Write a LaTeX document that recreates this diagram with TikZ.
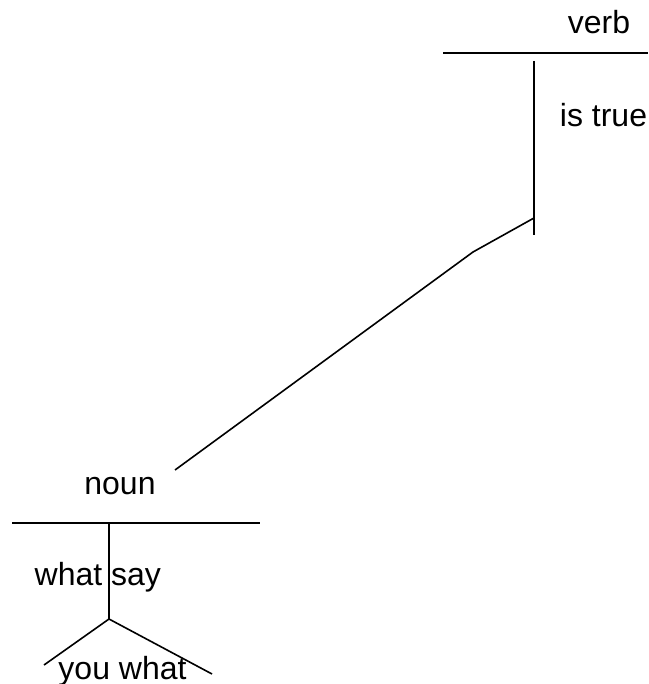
\documentclass[tikz,border=0pt]{standalone}
\usepackage{fontspec}
\setmainfont{Liberation Sans}
\begin{document}
\begin{tikzpicture}[x=1pt,y=-1pt,
  lbl/.style={anchor=base,inner sep=0pt,font=\fontsize{32}{37}\selectfont},
  ln/.style={line width=1.6pt}]
\useasboundingbox (0,0) rectangle (648,684);
% texts
\node[lbl] (verb) at (599,34) {verb};
\node[lbl] (istrue) at (603.5,127) {is true};
\node[lbl] (noun) at (120,494) {noun};
\node[lbl] (what) at (68.5,585) {what};
\node[lbl] (say) at (136,585) {say};
\node[lbl] (youwhat) at (122.5,679) {you what};
% coordinates
\coordinate (vl) at (443,53);
\coordinate (vr) at (648,53);
\coordinate (vt) at (534,61);
\coordinate (vb) at (534,235);
\coordinate (vj) at (534,218);
\coordinate (bend) at (473,252);
\coordinate (nend) at (175,470);
\coordinate (nl) at (12,523);
\coordinate (nr) at (260,523);
\coordinate (nt) at (109,523);
\coordinate (nb) at (109,619);
\coordinate (dl) at (44,665);
\coordinate (dr) at (212,674);
% lines
\draw[ln] (vl) -- (vr);
\draw[ln] (vt) -- (vb);
\draw[ln] (vj) -- (bend) -- (nend);
\draw[ln] (nl) -- (nr);
\draw[ln] (nt) -- (nb);
\draw[ln] (dl) -- (nb) -- (dr);
\end{tikzpicture}
\end{document}
